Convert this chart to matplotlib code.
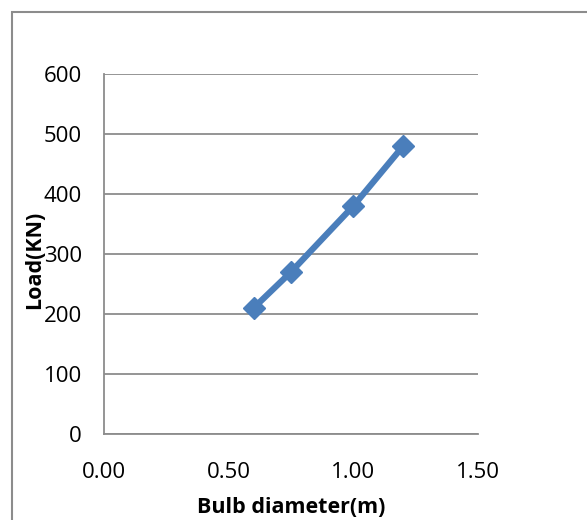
import matplotlib.pyplot as plt
from matplotlib.patches import Rectangle

# bulb diameter (m) vs load (kN)
diameter = [0.60, 0.75, 1.00, 1.20]
load = [210, 270, 380, 480]

x_ticks = [0.0, 0.5, 1.0, 1.5]
y_ticks = [0, 100, 200, 300, 400, 500, 600]

plt.rcParams['font.family'] = ['Open Sans', 'DejaVu Sans']

fig = plt.figure(figsize=(5.87, 5.2), dpi=100)
ax = fig.add_axes([104/587, 1 - 434/520, 374/587, 360/520])

# outer chart border (runs off the right and bottom edge)
fig.patches.append(Rectangle((12/587, -0.05), 1.2, 1 - 12/520 + 0.05,
                             transform=fig.transFigure, fill=False,
                             edgecolor='#8c8c8c', linewidth=1.5))

ax.plot(diameter, load, color='#4a7ebb', linewidth=4.5, marker='D',
        markersize=11, zorder=3)

ax.set_xlim(0, 1.5)
ax.set_ylim(0, 600)
ax.set_xticks(x_ticks)
ax.set_xticklabels(['%.2f' % v for v in x_ticks])
ax.set_yticks(y_ticks)
ax.grid(axis='y', color='#8c8c8c', linewidth=1.3)
ax.set_axisbelow(True)

for s in ['top', 'right']:
    ax.spines[s].set_visible(False)
for s in ['left', 'bottom']:
    ax.spines[s].set_color('#8c8c8c')
    ax.spines[s].set_linewidth(1.3)

ax.tick_params(axis='x', length=0, labelsize=16, pad=20)
ax.tick_params(axis='y', length=0, labelsize=16, pad=16)

ax.set_xlabel('Bulb diameter(m)', fontsize=15.5, fontweight='bold', labelpad=10)
ax.set_ylabel('Load(KN)', fontsize=15.5, fontweight='bold')
ax.yaxis.set_label_coords(-0.158, 0.483)

fig.savefig('out.png', dpi=100)
